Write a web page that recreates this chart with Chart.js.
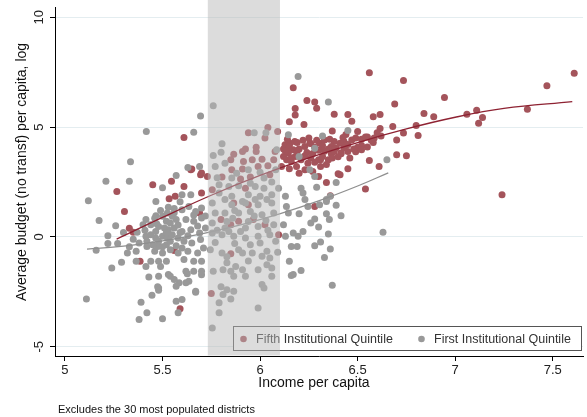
<!DOCTYPE html>
<html>
<head>
<meta charset="utf-8">
<script src="https://cdn.jsdelivr.net/npm/chart.js@4.4.1/dist/chart.umd.min.js"></script>
<style>
  html, body { margin: 0; padding: 0; background: #fff; }
</style>
</head>
<body>
<canvas id="chart" width="587" height="417"></canvas>
<script>
// ========= DATA ========= //
const xTicks = [5, 5.5, 6, 6.5, 7, 7.5];
const yTicks = [-5, 0, 5, 10];
const shadeFrom = 5.732;
const shadeTo = 6.102;

const seriesLabels = ["Fifth Institutional Quintile", "First Institutional Quintile"];

// Fifth institutional quintile (red)
const fifthX = [
  6.56, 6.735, 6.945, 6.69, 7.47, 7.61, 7.37, 7.11, 7.14, 7.12, 7.06, 6.89, 6.84, 7.24, 6.75, 6.70, 6.61, 6.56, 6.54,
  6.81, 6.80, 6.68, 6.735, 6.70, 6.615, 6.58, 6.615, 6.60, 6.585, 6.55, 6.52, 6.45, 6.47, 6.38, 6.44, 6.37, 6.28,
  6.29, 6.24, 6.18, 6.18, 6.17, 6.225, 6.15, 6.40, 6.45, 6.34, 6.36, 6.415, 6.49, 6.45, 6.365, 6.31, 6.31, 6.28,
  6.229, 6.255, 6.28, 6.305, 6.33, 6.357, 6.38, 6.41, 6.43, 6.47, 6.49, 6.52, 6.54, 6.38, 6.415, 6.45, 6.30, 6.32,
  6.35, 6.37, 6.26, 6.245, 6.365, 6.50, 6.52, 6.425, 6.21, 6.23, 6.27, 6.30, 6.41,
  6.128, 6.153, 6.178, 6.17, 6.145, 6.12, 6.18, 6.136, 6.16, 6.187, 6.11,
  6.14, 6.20, 6.24, 6.35, 6.46, 6.58, 6.62, 6.50, 6.12, 6.15, 6.20, 6.25, 6.33, 6.43,
  6.15, 6.19, 6.22, 6.26, 6.29, 6.32, 6.19, 6.23, 6.27, 6.30, 6.13, 6.16, 6.39, 6.44, 6.48, 6.55, 6.40, 6.34, 6.28, 6.57,
  5.61, 5.695, 5.65, 5.61, 5.70, 5.73, 5.266, 5.45, 5.546, 5.534, 5.565, 5.305, 5.33, 5.35, 5.385, 5.59, 5.56,
  5.69, 5.645, 5.70,
  5.94, 6.04, 6.09, 6.025, 5.865, 5.91, 5.925, 5.98, 5.98, 6.077, 5.85, 5.915, 5.96, 6.01, 6.07, 5.855, 5.91,
  5.99, 6.04, 5.805, 5.90, 5.95, 6.05, 5.925, 5.755, 5.865, 5.80, 5.85, 5.89, 5.965, 6.025, 6.095, 5.85, 5.75, 5.94
];
const fifthY = [
  7.48, 7.12, 6.35, 6.05, 6.88, 7.45, 5.82, 5.77, 5.44, 5.18, 5.59, 5.47, 5.62, 1.92, 3.70, 3.74, 3.21, 3.48, 2.18,
  4.62, 5.07, 5.03, 4.73, 4.42, 5.57, 5.47, 4.94, 4.75, 4.51, 4.55, 4.16, 5.57, 5.27, 5.59, 4.66, 4.82, 6.15,
  5.86, 6.21, 5.85, 5.55, 6.79, 5.12, 5.24, 2.88, 3.10, 2.48, 1.88, 3.79, 3.88, 4.21, 3.79, 3.51, 3.21, 1.39,
  4.12, 4.27, 4.09, 4.27, 4.42, 4.45, 4.35, 4.27, 4.35, 4.42, 4.50, 4.45, 4.55, 3.89, 3.82, 3.89, 3.51, 3.66,
  3.51, 3.59, 3.59, 3.36, 4.12, 4.09, 3.97, 4.53, 3.51, 3.06, 2.98, 2.75, 2.83,
  4.20, 4.27, 4.35, 3.97, 3.82, 3.66, 3.66, 3.51, 3.44, 3.21, 3.21,
  4.45, 4.00, 3.85, 4.00, 3.60, 4.30, 4.60, 4.80, 4.00, 3.10, 2.90, 4.50, 3.90, 4.05,
  4.10, 4.30, 4.40, 4.25, 4.40, 4.15, 3.90, 3.70, 3.80, 3.95, 3.90, 3.60, 4.05, 4.20, 4.00, 4.10, 3.65, 3.30, 3.40, 4.40,
  4.53, 2.83, 3.09, 2.30, 2.00, 2.75, 2.07, 2.38, 2.54, 1.74, 1.85, 1.16, 0.40, 0.22, -1.11, -3.27, -0.62,
  1.09, 3.06, 2.91,
  4.75, 4.98, 4.80, 4.50, 3.77, 3.89, 4.00, 4.09, 3.89, 3.89, 3.51, 3.44, 3.51, 3.54, 3.51, 3.06, 3.09,
  3.21, 3.24, 2.73, 2.64, 2.73, 2.83, 2.22, 2.15, 1.55, 0.79, 0.56, 0.71, 0.79, 0.56, 0.10, -0.76, -2.58, 1.47
];

// First institutional quintile (grey)
const firstX = [
  6.195, 6.35, 6.45, 6.32, 6.65, 6.39, 6.29, 6.36, 6.34, 6.145, 6.20, 6.28, 6.255, 6.28, 6.21, 6.22, 6.23, 6.39,
  5.417, 5.336, 5.21, 5.33, 5.50, 5.57, 5.466, 5.12, 5.695, 5.66, 5.63, 5.69, 5.60, 5.645,
  5.76, 5.97, 6.03, 5.805, 5.76, 5.80, 6.085, 5.77, 5.82, 5.94, 6.08, 5.855, 6.02, 5.79, 5.84, 5.89, 5.975, 6.02,
  5.79, 5.855, 5.94, 6.00, 6.06, 6.095, 5.82, 5.91, 5.975, 6.035, 6.13,
  5.11, 5.175, 5.24, 5.16, 5.22, 5.27, 5.39, 5.38, 5.42, 5.50, 5.58, 5.446, 5.48, 5.54, 5.585, 5.67, 5.635, 5.627, 5.70,
  5.26, 5.22, 5.29, 5.32, 5.365, 5.37, 5.40, 5.44, 5.465, 5.48, 5.38, 5.42, 5.42, 5.46, 5.44, 5.48, 5.52, 5.415,
  5.365, 5.49, 5.48, 5.43, 5.53, 5.56, 5.57, 5.475, 5.48, 5.57,
  5.50, 5.525, 5.55, 5.52, 5.54, 5.57, 5.51, 5.53, 5.56, 5.50, 5.525, 5.55, 5.58, 5.48, 5.52, 5.54, 5.58, 5.465,
  5.44, 5.415, 5.475, 5.50,
  5.60, 5.635, 5.67, 5.70, 5.62, 5.66, 5.70, 5.60, 5.645, 5.69, 5.72, 5.61, 5.65, 5.695, 5.63, 5.68, 5.71, 5.61,
  5.66, 5.70, 5.62, 5.66, 5.70, 5.62, 5.67, 5.60,
  5.755, 5.855, 5.925, 5.99, 6.06, 5.77, 5.82, 5.89, 5.95, 6.01, 6.07, 5.755, 5.82, 5.925, 5.99, 6.07, 5.755, 5.805,
  5.865, 5.925, 5.99, 6.05, 5.745, 5.805, 5.89, 5.91, 5.96, 6.00, 6.035, 6.01, 6.05, 5.83, 5.875, 5.91, 5.81, 5.85,
  5.99, 6.06, 6.035, 5.76, 5.865, 5.80, 5.83, 5.865, 5.81, 5.85, 5.79, 6.01, 6.02, 5.99, 5.79, 5.755, 6.06, 5.925,
  6.15, 6.17, 6.13, 6.12, 6.145, 6.17, 6.19, 6.135, 6.63, 6.37, 6.21, 6.33, 6.28, 6.31, 6.36, 6.35, 6.30, 6.26,
  6.28, 6.22, 6.195, 6.34, 6.355, 6.415, 6.20, 6.245, 6.305, 6.34, 6.16, 6.16,
  5.78, 5.88, 6.00, 5.95, 6.06, 5.87, 5.97, 5.83, 5.90, 6.04, 5.466, 5.415, 5.56, 5.59,
  5.47, 5.49, 5.53, 5.56, 5.58, 5.59, 5.52, 5.46, 5.54, 5.57, 5.50, 5.45, 5.35, 5.30, 5.33, 5.41, 5.60, 5.63,
  5.66, 5.68, 5.72, 5.78, 5.84, 5.94, 6.03, 5.86, 5.77, 5.87, 5.95, 6.08, 5.83, 5.94, 6.09
];
const firstY = [
  7.30, 6.15, 4.85, 4.60, 3.51, 2.48, 2.26, 1.85, 1.70, 4.65, 3.66, 4.04, 3.06, 2.75, 2.22, 2.00, 1.70, 1.44,
  4.80, 3.42, 2.54, 2.54, 2.24, 2.80, 1.62, 1.65, 5.51, 4.77, 3.16, 3.21, 1.92, 1.92,
  5.97, 4.75, 4.75, 4.24, 3.71, 3.86, 3.97, 3.21, 3.36, 3.06, 3.06, 2.68, 2.68, 2.38, 2.30, 2.33, 2.30, 2.22,
  2.00, 1.85, 1.92, 1.85, 1.92, 2.22, 1.70, 1.62, 1.70, 1.70, 1.85,
  -2.82, 0.75, -1.41, -0.61, -0.30, -0.30, -2.97, -3.76, -3.45, -3.72, -3.45, -2.65, -2.32, -1.79, -2.09, -2.52, -2.02, -1.68, -1.72,
  0.51, 0.06, -1.15, -0.73, -0.65, 0.21, 0.56, 0.56, 0.25, 0.48, -0.27, -0.20, -0.43, -0.65, -1.11, -1.11, -1.11, -1.34,
  -1.11, -1.34, -1.79, -1.82, -1.71, -1.94, -2.24, -2.27, -2.43, -2.93,
  0.94, 1.09, 0.94, 0.71, 0.64, 0.79, 0.41, 0.33, 0.41, 0.03, -0.05, 0.10, -0.05, -0.20, -0.35, -0.58, -0.73, -0.05,
  0.10, 0.03, -0.43, -0.73,
  1.24, 1.39, 1.16, 1.32, 0.79, 0.71, 0.86, 0.25, 0.33, 0.18, 0.41, -0.20, -0.27, -0.12, -0.65, -0.73, -0.50, -1.03,
  -1.11, -1.11, -1.56, -1.56, -1.56, -2.09, -2.47, -2.85,
  1.55, 1.47, 1.55, 1.47, 1.55, 1.09, 1.09, 1.09, 1.16, 1.01, 1.09, 0.64, 0.41, 0.41, 0.48, 0.56, 0.18, 0.10,
  0.03, -0.05, 0.03, 0.10, -0.58, -0.73, -0.58, -0.73, -0.73, -0.27, -0.65, -0.88, -0.96, -1.18, -1.34, -1.49, -1.49, -1.56,
  -1.49, -1.41, -1.26, -1.56, -1.79, -2.27, -2.40, -2.47, -2.62, -2.82, -3.00, -2.17, -2.32, -3.23, -3.45, -4.14, -1.79, -1.79,
  -1.11, -1.71, 0.03, 0.56, 1.09, 0.18, -0.43, 1.39, 0.21, -2.20, -1.53, -0.93, -0.40, -0.23, -0.55, 0.14, 0.45, 0.64,
  0.82, 0.25, 0.03, 1.06, 0.79, 0.97, 1.06, 1.39, 1.47, 1.62, -1.76, -0.43,
  2.70, 2.90, 2.95, 2.45, 2.50, 1.20, 0.95, 0.70, 0.25, 0.30, 0.97, 0.79, 1.30, 1.60,
  0.60, 1.20, 1.35, 1.10, 0.55, 0.20, 0.20, 0.85, -0.20, -0.40, -0.45, -0.35, -0.10, 0.20, -0.45, 0.30, -0.50, 0.05,
  1.00, 0.50, 0.95, 0.30, 0.25, 0.70, 0.75, 0.85, -0.25, -0.30, -0.35, -0.20, -0.90, -1.10, -0.70
];

// fitted curves
const fitFifthX = [5.265, 5.5, 5.75, 6.0, 6.25, 6.5, 6.75, 7.0, 7.25, 7.6];
const fitFifthY = [-0.10, 0.89, 1.90, 2.80, 3.60, 4.30, 4.92, 5.45, 5.85, 6.16];
const fitFirstX = [5.113, 5.3, 5.5, 5.7, 5.9, 6.1, 6.3, 6.5, 6.657];
const fitFirstY = [-0.55, -0.42, -0.18, 0.14, 0.55, 1.05, 1.64, 2.32, 2.92];

// ========= STYLE ========= //
const RED = "#a4545b";
const RED_LINE = "#8e2232";
const GREY = "#999999";
const GREY_LINE = "#8f8f8f";
const FONT = '"Liberation Sans", Arial, Helvetica, sans-serif';

const toPoints = (xs, ys) => xs.map((x, i) => ({ x: x, y: ys[i] }));

// ========= DECORATION PLUGIN ========= //
const decor = {
  id: "decor",
  afterDatasetsDraw(chart) {
    const ctx = chart.ctx;
    // legend box inside the plot, bottom right
    ctx.save();
    ctx.fillStyle = "#fff";
    ctx.fillRect(233, 326, 349, 25);
    ctx.strokeStyle = "#555";
    ctx.lineWidth = 1;
    ctx.strokeRect(233.5, 326.5, 348, 24);
    ctx.font = "12.5px " + FONT;
    ctx.textBaseline = "middle";
    const items = [
      { c: RED, mx: 243.5, tx: 256 },
      { c: GREY, mx: 421.5, tx: 434 }
    ];
    items.forEach((it, i) => {
      ctx.fillStyle = it.c;
      ctx.beginPath();
      ctx.arc(it.mx, 339, 3.3, 0, Math.PI * 2);
      ctx.fill();
      ctx.fillStyle = "#333";
      ctx.fillText(seriesLabels[i], it.tx, 339.5);
    });
    ctx.restore();
  },
  afterDraw(chart) {
    const ctx = chart.ctx;
    const xs = chart.scales.x;
    const ys = chart.scales.y;
    const area = chart.chartArea;

    // shaded band, drawn over everything
    const x0 = xs.getPixelForValue(shadeFrom);
    const x1 = xs.getPixelForValue(shadeTo);
    ctx.save();
    ctx.fillStyle = "rgba(183,183,183,0.49)";
    ctx.fillRect(x0, 0, x1 - x0, area.bottom - 0.5);

    // y tick labels, rotated
    ctx.fillStyle = "#222";
    ctx.font = "13px " + FONT;
    ctx.textAlign = "center";
    ctx.textBaseline = "middle";
    yTicks.forEach(v => {
      const py = ys.getPixelForValue(v);
      ctx.save();
      ctx.translate(39, py);
      ctx.rotate(-Math.PI / 2);
      ctx.fillText(String(v), 0, 0);
      ctx.restore();
    });

    // axis titles
    ctx.fillStyle = "#111";
    ctx.font = "14px " + FONT;
    ctx.save();
    ctx.translate(22, 172);
    ctx.rotate(-Math.PI / 2);
    ctx.fillText("Average budget (no transf) per capita, log", 0, 0);
    ctx.restore();
    ctx.fillText("Income per capita", 314, 383);

    // note
    ctx.textAlign = "left";
    ctx.font = "11px " + FONT;
    ctx.fillStyle = "#111";
    ctx.fillText("Excludes the 30 most populated districts", 58, 410);
    ctx.restore();
  }
};

// ========= CHART ========= //
new Chart(document.getElementById("chart"), {
  type: "scatter",
  data: {
    datasets: [
      { label: "fit5", data: toPoints(fitFifthX, fitFifthY), showLine: true, borderColor: RED_LINE,
        borderWidth: 1.3, pointRadius: 0, tension: 0.4, order: 1 },
      { label: "fit1", data: toPoints(fitFirstX, fitFirstY), showLine: true, borderColor: GREY_LINE,
        borderWidth: 1.3, pointRadius: 0, tension: 0.4, order: 2 },
      { label: seriesLabels[1], data: toPoints(firstX, firstY), backgroundColor: GREY, borderWidth: 0,
        pointRadius: 3.5, order: 3 },
      { label: seriesLabels[0], data: toPoints(fifthX, fifthY), backgroundColor: RED, borderWidth: 0,
        pointRadius: 3.5, order: 4 }
    ]
  },
  options: {
    responsive: false,
    animation: false,
    layout: { padding: { top: 7, right: 0, left: 0, bottom: 0 } },
    plugins: { legend: { display: false }, tooltip: { enabled: false } },
    scales: {
      x: {
        type: "linear",
        min: 4.949,
        max: 7.655,
        afterBuildTicks: s => { s.ticks = xTicks.map(v => ({ value: v })); },
        afterFit: s => { s.height = 61; },
        ticks: { color: "#222", font: { family: FONT, size: 13 }, padding: 2, callback: v => String(v) },
        grid: { drawOnChartArea: false, drawTicks: true, tickLength: 5, tickColor: "#000" },
        border: { display: true, color: "#000", width: 1 }
      },
      y: {
        type: "linear",
        min: -5.42,
        max: 10.47,
        afterBuildTicks: s => { s.ticks = yTicks.map(v => ({ value: v })); },
        afterFit: s => { s.width = 55; },
        ticks: { display: false },
        grid: { color: "#e4edf0", lineWidth: 1, drawTicks: true, tickLength: 5, tickColor: "#000" },
        border: { display: true, color: "#000", width: 1 }
      }
    }
  },
  plugins: [decor]
});
</script>
</body>
</html>
